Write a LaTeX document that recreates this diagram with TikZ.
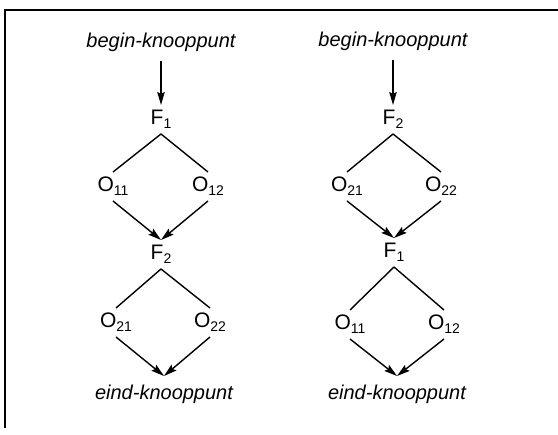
\documentclass[tikz,border=0pt]{standalone}
\usepackage{fontspec}
\setmainfont{Liberation Sans}
\usetikzlibrary{arrows.meta}
\newcommand\subs[1]{\raisebox{-4pt}{\fontsize{14}{14}\selectfont#1}}
\begin{document}
\begin{tikzpicture}[x=1pt,y=-1pt,
  lbl/.style={font=\fontsize{21}{21}\selectfont, inner sep=0pt, outer sep=0pt,
              text height=20pt, text depth=9pt, anchor=base},
  endlbl/.style={font=\fontsize{20}{20}\selectfont\itshape, inner sep=0pt, outer sep=0pt, anchor=base},
  beginlbl/.style={endlbl, text height=14pt, text depth=13pt},
  eindlbl/.style={endlbl, text height=24pt, text depth=5pt},
  edge/.style={line width=1.4pt},
  arr/.style={line width=1.4pt, -{Stealth[length=13pt,width=7.5pt,inset=2pt]}},
  frame/.style={line width=1.4pt}]
\useasboundingbox (0,0) rectangle (558,435);
% frame
\coordinate (fa) at (5,428);
\coordinate (fb) at (5,10);
\coordinate (fc) at (558,10);
\draw[frame] (fa) -- (fb) -- (fc);

% left diagram
\node[beginlbl] (b1) at (161,48) {begin-knooppunt};
\node[lbl] (F1a) at (161,125) {F\subs{1}};
\node[lbl] (O11a) at (113,192) {O\subs{11}};
\node[lbl] (O12a) at (208,192) {O\subs{12}};
\node[lbl] (F2a) at (161,260) {F\subs{2}};
\node[lbl] (O21a) at (116,328) {O\subs{21}};
\node[lbl] (O22a) at (210,328) {O\subs{22}};
\node[eindlbl] (e1) at (164,400) {eind-knooppunt};

\draw[arr] (b1.south) -- (F1a.north);
\draw[edge] (F1a.south) -- (O11a.north);
\draw[edge] (F1a.south) -- (O12a.north);
\draw[arr] (O11a.south) -- (F2a.north);
\draw[arr] (O12a.south) -- (F2a.north);
\draw[edge] (F2a.south) -- (O21a.north);
\draw[edge] (F2a.south) -- (O22a.north);
\draw[arr] (O21a.south) -- (e1.north);
\draw[arr] (O22a.south) -- (e1.north);

% right diagram
\node[beginlbl] (b2) at (393,47) {begin-knooppunt};
\node[lbl] (F2b) at (393,125) {F\subs{2}};
\node[lbl] (O21b) at (347,192) {O\subs{21}};
\node[lbl] (O22b) at (441,192) {O\subs{22}};
\node[lbl] (F1b) at (394,258) {F\subs{1}};
\node[lbl] (O11b) at (350,330) {O\subs{11}};
\node[lbl] (O12b) at (444,330) {O\subs{12}};
\node[eindlbl] (e2) at (397,400) {eind-knooppunt};

\draw[arr] (b2.south) -- (F2b.north);
\draw[edge] (F2b.south) -- (O21b.north);
\draw[edge] (F2b.south) -- (O22b.north);
\draw[arr] (O21b.south) -- (F1b.north);
\draw[arr] (O22b.south) -- (F1b.north);
\draw[edge] (F1b.south) -- (O11b.north);
\draw[edge] (F1b.south) -- (O12b.north);
\draw[arr] (O11b.south) -- (e2.north);
\draw[arr] (O12b.south) -- (e2.north);
\end{tikzpicture}
\end{document}
